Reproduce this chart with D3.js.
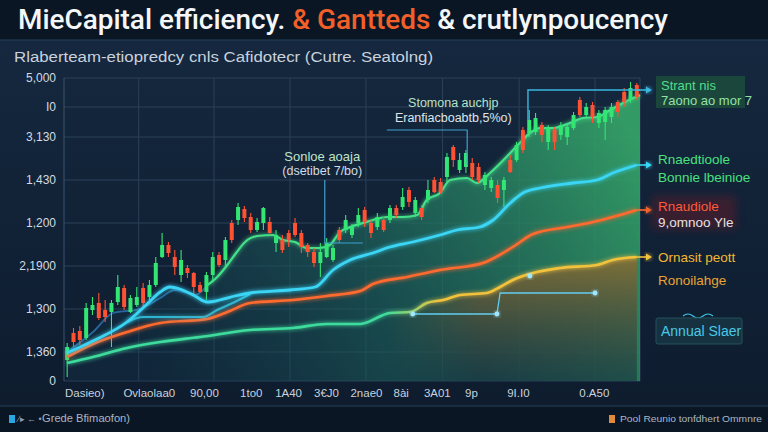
<!DOCTYPE html>
<html lang="en">
<head>
<meta charset="UTF-8">
<title>Capital efficiency</title>
<script src="https://cdn.jsdelivr.net/npm/d3@7/dist/d3.min.js"></script>
<style>
    html, body { margin: 0; padding: 0; background: #0b1625; }
    svg { display: block; font-family: "Liberation Sans", Arial, sans-serif; }
</style>
</head>
<body>
<svg width="768" height="432" id="main"></svg>
<script>
    // ---- data (index points vs. period) ----
    const yTickValues = [0, 29, 72, 115, 158, 201, 244, 274, 303];
    const yTickLabels = ["0", "1,360", "1,300", "2,1900", "1,200", "1,430", "3,130", "I0", "5,000"];
    const xGridValues = [0, 11.8, 23.7, 35.7, 47.7, 59.8, 71.9, 83.9, 91];
    const xTickValues = [3.2, 13.4, 22.1, 29.5, 35.4, 41.4, 47.7, 53.2, 58.9, 64.3, 71.7, 83.7];
    const xTickLabels = ["Dasieo)", "Ovlaolaa0", "90,00", "1to0", "1A40", "3\u20acJ0", "2nae0", "8\u00e0i", "3A01", "9p", "9I.I0", "0.A50"];

    // candles: [open, high, low, close], one per period
    const candles = [
        [21,38,4,34],[48,53,34,39],[50,55,36,41],[43,78,41,73],[71,84,66,76],[78,88,61,63],[71,81,59,64],
        [69,81,34,78],[79,106,76,94],[93,96,71,74],[69,86,68,83],[76,94,74,84],[93,98,74,78],[84,101,81,96],
        [96,124,94,118],[124,148,123,136],[136,139,124,128],[124,131,106,114],[106,131,99,121],[113,116,103,108],
        [108,109,86,94],[96,99,88,89],[89,109,81,106],[106,129,101,124],[126,129,114,116],[121,144,114,141],
        [158,161,138,141],[161,178,156,174],[172,175,159,163],[164,168,148,151],[151,163,149,159],[158,174,151,173],
        [159,164,146,148],[138,151,129,146],[141,146,128,131],[148,151,134,141],[158,163,144,146],[148,151,128,134],
        [136,138,124,129],[129,133,114,118],[118,138,104,129],[124,143,123,138],[121,136,119,133],[151,154,138,141],
        [151,166,148,161],[146,157,143,154],[158,173,154,166],[171,174,154,159],[158,161,143,148],[154,168,151,164],
        [161,164,149,151],[161,176,158,173],[173,176,163,166],[174,193,171,184],[191,194,174,179],[168,184,164,181],
        [173,176,161,164],[181,201,178,191],[201,204,188,189],[199,203,187,189],[204,228,199,224],[234,236,214,221],
        [211,228,208,221],[214,231,208,228],[218,223,201,204],[214,218,198,201],[196,209,191,206],[193,204,189,201],
        [196,201,178,183],[191,204,174,201],[221,226,208,209],[221,239,219,236],[251,254,228,231],[248,271,244,261],
        [249,268,246,263],[256,259,239,246],[239,256,231,253],[251,254,231,239],[246,259,241,256],[244,256,236,254],
        [253,269,251,266],[281,284,264,266],[266,278,263,274],[276,279,258,264],[258,271,253,268],[259,274,241,271],
        [264,278,258,274],[279,281,264,269],[289,293,274,279],[281,299,278,293],[296,298,281,284]
    ];

    // lines: [period, value]
    const trendLine = [
        [0.47,29],[4.58,49],[7.74,68],[12.0,72],[15.2,83],[17.5,91],[20.7,86],[22.7,96],[24.2,104],[25.8,116],
        [27.3,129],[28.6,139],[30.5,145],[33.0,146],[34.6,141],[36.5,139],[38.4,133],[40.4,133],[42.0,136],
        [43.6,149],[45.2,154],[47.2,158],[48.8,161],[51.0,164],[53.6,164],[55.8,166],[57.3,181],[59.4,188],
        [61.0,201],[63.7,203],[65.2,198],[67.3,208],[70.5,228],[72.0,238],[73.6,248],[75.2,253],[77.3,253],
        [79.9,258],[82.0,263],[84.2,264],[86.3,271],[88.3,278],[91.0,286]
    ];
    const cyanLine = [
        [0.47,28],[4.58,40],[9.95,59],[13.3,78],[15.2,89],[16.7,94],[18.3,92],[20.7,85],[22.6,79],[24.6,81],
        [27.0,85],[29.4,88],[35.7,91],[39.7,94],[42.5,111],[45.2,121],[48.8,128],[51.5,134],[55.1,139],
        [59.4,146],[62.1,151],[65.7,154],[67.8,161],[70.5,178],[72.5,188],[75.2,193],[80.4,198],[84.2,201],
        [86.7,208],[90.5,216]
    ];
    const cyanBranch = [[9.95,59],[12.5,64],[22.0,64],[24.2,71],[27.0,79],[29.4,87]];
    const orangeLine = [
        [0.47,24],[4.58,37],[9.95,49],[15.2,58],[22.6,62],[25.8,69],[29.4,78],[36.2,81],[41.5,85],[46.8,90],
        [48.8,97],[54.2,104],[59.4,111],[66.2,118],[70.9,134],[74.1,147],[79.5,154],[83.6,159],[86.7,164],
        [90.5,171]
    ];
    const yieldLine = [
        [0.47,18],[4.58,24],[9.95,33],[15.2,39],[21.5,44],[29.4,51],[36.2,53],[41.5,57],[46.8,57],[51.5,68],
        [54.7,69],[57.3,78],[59.9,81],[62.6,86],[66.8,88],[68.9,94],[70.9,101],[74.1,108],[78.4,113],
        [84.2,116],[86.7,121],[90.5,124]
    ];

    draw();

    function draw() {
        const svg = d3.select('#main');
        const x = d3.scaleLinear().domain([0, 91]).range([64, 640]);
        const y = d3.scaleLinear().domain([0, 303]).range([381, 78]);

        const defs = svg.append("defs");
        let g1 = defs.append("linearGradient").attr("id", "panel").attr("x1", 0).attr("y1", 0).attr("x2", 0).attr("y2", 1);
        g1.append("stop").attr("offset", 0).attr("stop-color", "#15283f");
        g1.append("stop").attr("offset", 1).attr("stop-color", "#0e1c2e");

        let g2 = defs.append("linearGradient").attr("id", "greenFill").attr("gradientUnits", "userSpaceOnUse")
            .attr("x1", 150).attr("y1", 380).attr("x2", 620).attr("y2", 110);
        g2.append("stop").attr("offset", 0).attr("stop-color", "#14364c").attr("stop-opacity", 0.35);
        g2.append("stop").attr("offset", 0.45).attr("stop-color", "#1c5f5a").attr("stop-opacity", 0.7);
        g2.append("stop").attr("offset", 1).attr("stop-color", "#35a568").attr("stop-opacity", 0.92);

        let g3 = defs.append("linearGradient").attr("id", "goldFill").attr("x1", 0).attr("y1", 0).attr("x2", 0).attr("y2", 1);
        g3.append("stop").attr("offset", 0).attr("stop-color", "#8e6c32").attr("stop-opacity", 0.85);
        g3.append("stop").attr("offset", 1).attr("stop-color", "#18263a").attr("stop-opacity", 0.5);

        let g4 = defs.append("linearGradient").attr("id", "fadeIn").attr("gradientUnits", "userSpaceOnUse")
            .attr("x1", 385).attr("y1", 0).attr("x2", 480).attr("y2", 0);
        g4.append("stop").attr("offset", 0).attr("stop-color", "#fff").attr("stop-opacity", 0);
        g4.append("stop").attr("offset", 1).attr("stop-color", "#fff").attr("stop-opacity", 1);
        defs.append("mask").attr("id", "goldMask").attr("maskUnits", "userSpaceOnUse")
            .append("rect").attr("x", 0).attr("y", 0).attr("width", 768).attr("height", 432).attr("fill", "url(#fadeIn)");

        let g5 = defs.append("linearGradient").attr("id", "mintGold").attr("gradientUnits", "userSpaceOnUse")
            .attr("x1", 385).attr("y1", 0).attr("x2", 440).attr("y2", 0);
        g5.append("stop").attr("offset", 0).attr("stop-color", "#3ddc9c");
        g5.append("stop").attr("offset", 1).attr("stop-color", "#f2c23c");

        let glow = defs.append("filter").attr("id", "glow").attr("x", "-20%").attr("y", "-20%").attr("width", "140%").attr("height", "140%");
        glow.append("feGaussianBlur").attr("stdDeviation", 2.2).attr("result", "b");
        let gm = glow.append("feMerge");
        gm.append("feMergeNode").attr("in", "b");
        gm.append("feMergeNode").attr("in", "SourceGraphic");

        let soft = defs.append("filter").attr("id", "soft").attr("x", "-50%").attr("y", "-50%").attr("width", "200%").attr("height", "200%");
        soft.append("feGaussianBlur").attr("stdDeviation", 4);

        // backgrounds
        svg.append("rect").attr("width", 768).attr("height", 432).attr("fill", "#0b1625");
        svg.append("rect").attr("y", 40).attr("width", 768).attr("height", 366).attr("fill", "url(#panel)");
        svg.append("line").attr("x1", 0).attr("x2", 768).attr("y1", 40).attr("y2", 40).attr("stroke", "#25405a");
        svg.append("line").attr("x1", 0).attr("x2", 768).attr("y1", 406).attr("y2", 406).attr("stroke", "#25405a");

        // title
        let title = svg.append("text").attr("x", 18).attr("y", 29).attr("font-size", 27).attr("font-weight", 500)
            .attr("font-family", "Roboto, 'Liberation Sans', sans-serif")
            .attr("textLength", 650).attr("lengthAdjust", "spacingAndGlyphs").attr("fill", "#f4f6f8");
        title.append("tspan").text("MieCapital efficiency.");
        title.append("tspan").attr("fill", "#f2602a").text(" & Gantteds");
        title.append("tspan").text(" & crutlynpoucency");

        svg.append("text").attr("x", 14).attr("y", 62).attr("font-size", 14).attr("fill", "#c9d2dc")
            .attr("textLength", 419).attr("lengthAdjust", "spacingAndGlyphs")
            .text("Rlaberteam-etiopredcy cnls Cafidotecr (Cutre. Seatolng)");

        // grid
        svg.append("g").selectAll("line").data(yTickValues).join("line")
            .attr("x1", x(0)).attr("x2", x(91)).attr("y1", d => y(d)).attr("y2", d => y(d))
            .attr("stroke", "#2b4058").attr("stroke-width", 1);
        svg.append("g").selectAll("line").data(xGridValues).join("line")
            .attr("x1", d => x(d)).attr("x2", d => x(d)).attr("y1", y(0)).attr("y2", y(303))
            .attr("stroke", d => d === 0 ? "#3b5470" : "#2b4058").attr("stroke-width", 1);

        // axes
        svg.append("g").attr("transform", "translate(64,0)")
            .call(d3.axisLeft(y).tickValues(yTickValues).tickFormat((d, i) => yTickLabels[i]).tickSize(0).tickPadding(8))
            .call(g => g.select(".domain").remove())
            .call(g => g.selectAll("text").attr("fill", "#d2dae2").attr("font-size", 12)
                .attr("font-family", "'Liberation Sans', Arial, sans-serif"));
        svg.append("g").attr("transform", "translate(0,381)")
            .call(d3.axisBottom(x).tickValues(xTickValues).tickFormat((d, i) => xTickLabels[i]).tickSize(0).tickPadding(8))
            .call(g => g.select(".domain").remove())
            .call(g => g.selectAll("text").attr("fill", "#c9d2dc").attr("font-size", 11.5)
                .attr("font-family", "'Liberation Sans', Arial, sans-serif"));

        const line = d3.line().x(d => x(d[0])).y(d => y(d[1])).curve(d3.curveMonotoneX);
        const area = d3.area().x(d => x(d[0])).y0(y(0)).y1(d => y(d[1])).curve(d3.curveMonotoneX);

        // filled regions
        svg.append("path").attr("d", area(trendLine)).attr("fill", "url(#greenFill)");
        svg.append("path").attr("d", area(yieldLine.filter(d => d[0] >= 46.8))).attr("fill", "url(#goldFill)")
            .attr("mask", "url(#goldMask)");

        // trend line: dim blue at the start, green from the breakout
        const split = 22.7;
        svg.append("path").attr("d", line(trendLine.filter(d => d[0] <= split)))
            .attr("fill", "none").attr("stroke", "#2d78b4").attr("stroke-width", 1.8).attr("opacity", 0.8);
        svg.append("path").attr("d", line(trendLine.filter(d => d[0] >= split)))
            .attr("fill", "none").attr("stroke", "#44e08a").attr("stroke-width", 2.2).attr("filter", "url(#glow)");

        // candles
        const cw = 4;
        const cg = svg.append("g").selectAll("g").data(candles).join("g")
            .attr("transform", (d, i) => `translate(${x(i + 0.5)},0)`);
        const col = d => d[3] >= d[0] ? "#33e674" : "#ff5232";
        cg.append("line").attr("y1", d => y(d[1])).attr("y2", d => y(d[2]))
            .attr("stroke", col).attr("stroke-width", 1.1);
        cg.append("rect").attr("x", -cw / 2).attr("width", cw)
            .attr("y", d => y(Math.max(d[0], d[3])))
            .attr("height", d => Math.max(1.5, Math.abs(y(d[0]) - y(d[3]))))
            .attr("fill", col);

        // series lines
        svg.append("path").attr("d", line(yieldLine)).attr("fill", "none")
            .attr("stroke", "url(#mintGold)").attr("stroke-width", 2.6).attr("filter", "url(#glow)");
        svg.append("path").attr("d", line(orangeLine)).attr("fill", "none")
            .attr("stroke", "#ff6a2e").attr("stroke-width", 2.6).attr("filter", "url(#glow)");
        svg.append("path").attr("d", line(cyanBranch)).attr("fill", "none")
            .attr("stroke", "#34cbe8").attr("stroke-width", 2.2).attr("opacity", 0.85).attr("filter", "url(#glow)");
        svg.append("path").attr("d", line(cyanLine)).attr("fill", "none")
            .attr("stroke", "#3ad6f6").attr("stroke-width", 2.8).attr("filter", "url(#glow)");

        // leader lines / callouts
        const lead = "#3f9fd0";
        const seg = (pts, c, w) => svg.append("path").attr("d", d3.line().x(d => x(d[0])).y(d => y(d[1]))(pts))
            .attr("fill", "none").attr("stroke", c).attr("stroke-width", w);
        seg([[41.2, 201], [41.2, 138], [47.2, 138]], lead, 1.2);
        seg([[51.0, 251], [63.7, 251], [63.7, 216]], lead, 1.2);
        seg([[73.3, 261], [73.3, 291], [91, 291]], "#3ab6de", 1.4);
        seg([[55.1, 67], [68.4, 67], [68.9, 88], [83.9, 88]], "#63cdef", 1.3);
        [[55.1, 67], [68.4, 67], [83.9, 88], [73.6, 105]].forEach(p => {
            svg.append("circle").attr("cx", x(p[0])).attr("cy", y(p[1])).attr("r", 2.4)
                .attr("fill", "#9fe8ff").attr("filter", "url(#glow)");
        });

        const label = (tx, ty, txt, c, size, extra) => {
            const t = svg.append("text").attr("x", tx).attr("y", ty).attr("fill", c).attr("font-size", size).text(txt);
            if (extra) extra(t);
            return t;
        };
        const mid = t => t.attr("text-anchor", "middle");
        label(x(40.8), 161, "Sonloe aoaja", "#bfe3c9", 13, mid);
        label(x(40.8), 175, "(dsetibet 7/bo)", "#d3dbe3", 12.5, mid);
        label(x(61.5), 107, "Stomona auchjp", "#b9e2c8", 12.5, mid);
        label(x(61.5), 122, "Eranfiacboabtb,5%o)", "#dfe5ea", 12.5, mid);

        // arrows from series ends to the side labels
        const ends = [[291, "#3ab6de"], [cyanLine[cyanLine.length - 1][1], "#3ad6f6"],
            [orangeLine[orangeLine.length - 1][1], "#ff6a2e"], [yieldLine[yieldLine.length - 1][1], "#f2c23c"]];
        ends.forEach(e => {
            svg.append("line").attr("x1", 637).attr("x2", 650).attr("y1", y(e[0])).attr("y2", y(e[0]))
                .attr("stroke", e[1]).attr("stroke-width", 1.6);
            svg.append("path").attr("d", `M${646},${y(e[0]) - 3.5}L${652},${y(e[0])}L${646},${y(e[0]) + 3.5}Z`)
                .attr("fill", e[1]).attr("filter", "url(#glow)");
        });

        // side labels
        svg.append("rect").attr("x", 656).attr("y", 76).attr("width", 89).attr("height", 32)
            .attr("fill", "#1c4a3b").attr("opacity", 0.9);
        label(661, 90, "Strant nis", "#52de8c", 13);
        label(661, 105, "7aono ao mor 7", "#92e3a6", 13);

        label(658, 164, "Rnaedtioole", "#4ae07e", 13.5);
        label(658, 182, "Bonnie lbeinioe", "#4ae07e", 13.5);

        svg.append("rect").attr("x", 652).attr("y", 196).attr("width", 84).attr("height", 33)
            .attr("fill", "#5a1f2a").attr("opacity", 0.55).attr("filter", "url(#soft)");
        label(658, 211, "Rnaudiole", "#ff5a3a", 13.5);
        label(658, 227, "9,omnoo Yle", "#e6e1e1", 13.5);

        label(658, 262, "Ornasit peott", "#f2b732", 13.5);
        label(658, 285, "Ronoilahge", "#e9a432", 13.5);

        svg.append("path").attr("d", "M683,316 q5,-4 10,0 t10,0 t10,0").attr("fill", "none")
            .attr("stroke", "#3ec6e4").attr("stroke-width", 1.2);
        svg.append("rect").attr("x", 656).attr("y", 318).attr("width", 86).attr("height", 26)
            .attr("fill", "#163240").attr("stroke", "#25505e").attr("rx", 2);
        label(661, 336, "Annual Slaer", "#4ac9e8", 14);

        // footer
        svg.append("rect").attr("x", 9).attr("y", 415).attr("width", 6).attr("height", 8).attr("fill", "#2aa6e2");
        label(18, 422, "\u2215\u25b8  \u2190 \u2022", "#8fa0b2", 9);
        label(42, 422, "Grede Bfimaofon)", "#a9b6c4", 10.5, t => t.attr("textLength", 88).attr("lengthAdjust", "spacingAndGlyphs"));
        svg.append("rect").attr("x", 609).attr("y", 415).attr("width", 6).attr("height", 8).attr("fill", "#e28a3c");
        label(620, 422, "Pool Reunio tonfdhert Ommnre", "#a9b6c4", 9.5, t => t.attr("textLength", 142).attr("lengthAdjust", "spacingAndGlyphs"));
    }
</script>
</body>
</html>
